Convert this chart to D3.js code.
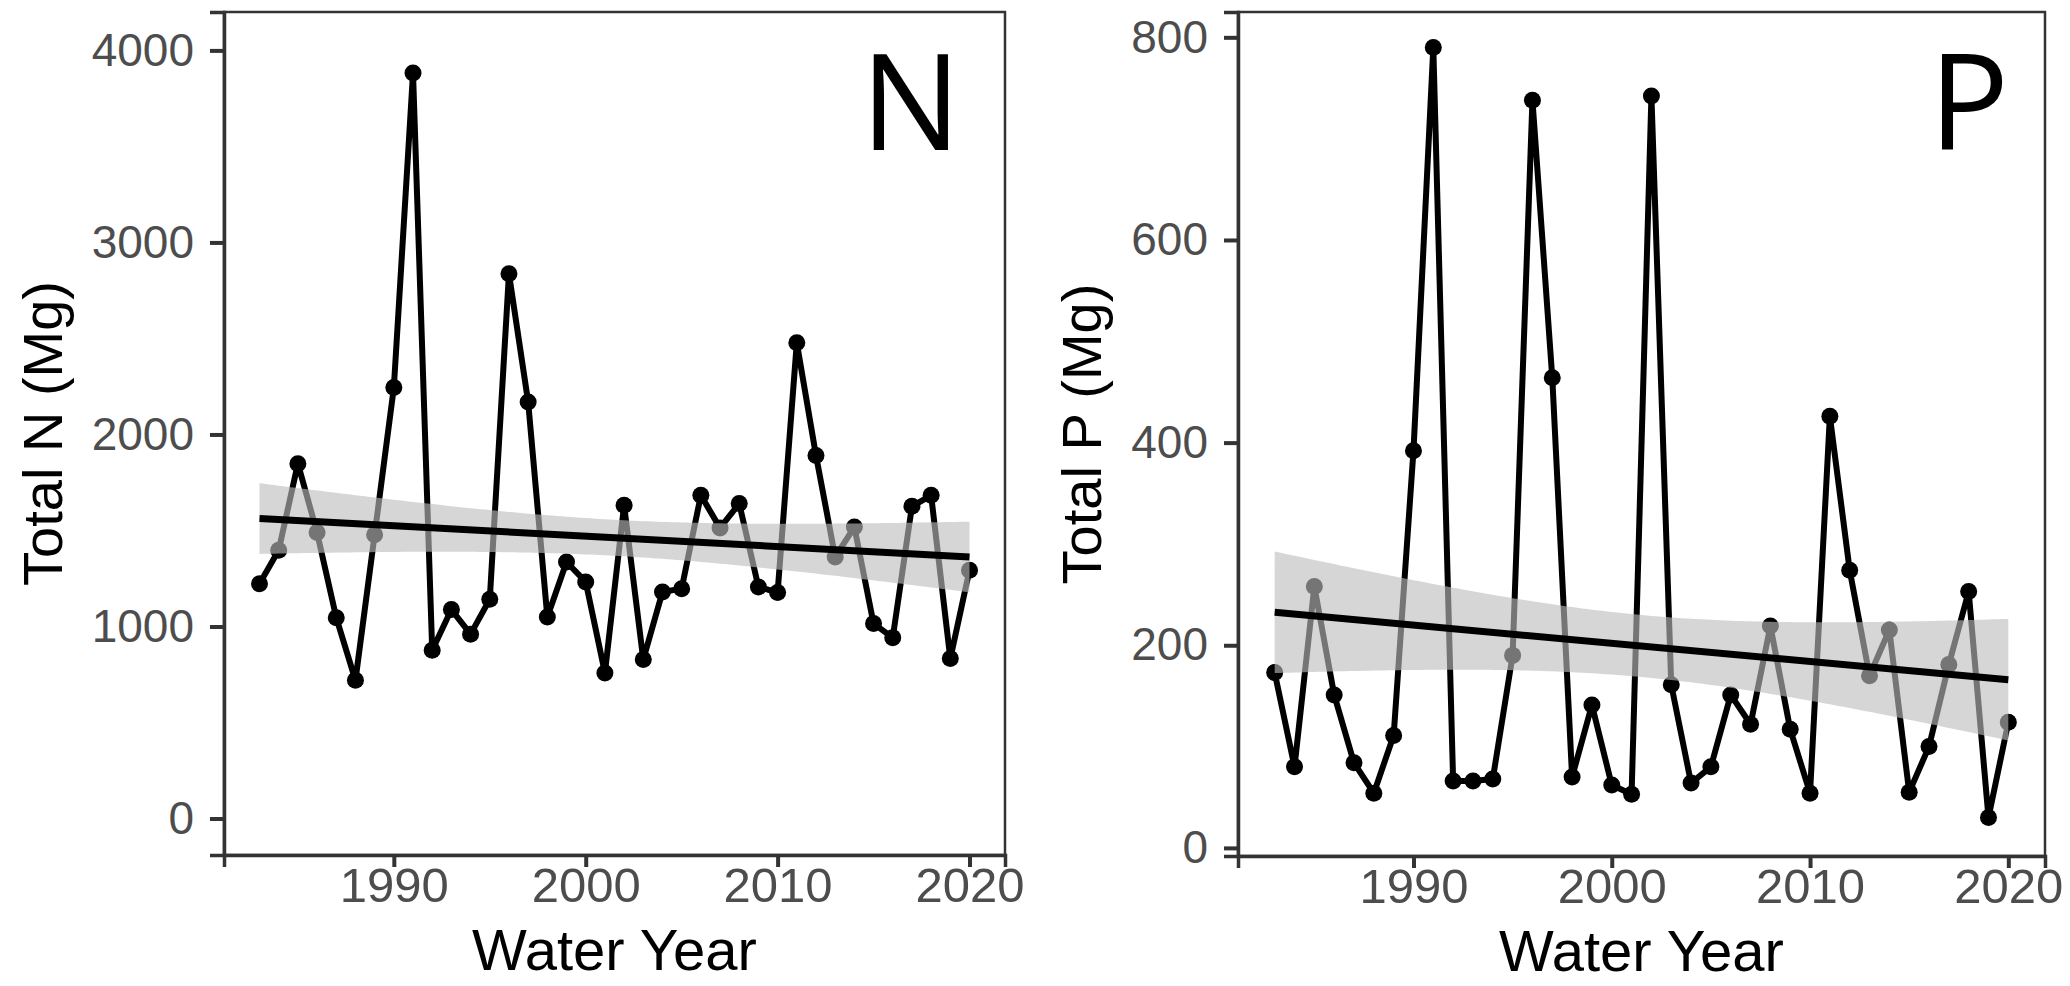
<!DOCTYPE html>
<html>
<head>
<meta charset="utf-8">
<script src="https://cdn.jsdelivr.net/npm/d3@7"></script>
<style>
  body { margin: 0; background: #fff; }
  text { font-family: "Liberation Sans", Arial, Helvetica, sans-serif; }
</style>
</head>
<body>
<div id="container"></div>
<script>
/**
 * DATA
 * */
const years = d3.range(1983, 2021);

// Total N load (Mg) per water year
const totalN = [1223, 1397, 1848, 1489, 1046, 720, 1478, 2244, 3882, 876,
  1088, 960, 1142, 2837, 2169, 1050, 1336, 1232, 758, 1631,
  828, 1180, 1197, 1683, 1513, 1640, 1206, 1177, 2478, 1891,
  1362, 1518, 1015, 942, 1626, 1683, 833, 1293];

// Total P load (Mg) per water year
const totalP = [173, 80, 258, 151, 84, 54, 111, 392, 790, 66,
  66, 68, 190, 738, 464, 70, 141, 62, 53, 742,
  161, 64, 80, 151, 122, 219, 117, 54, 426, 274,
  170, 215, 55, 100, 181, 253, 30, 124];

// linear trend: fitted value at first and last year, and CI half-width at the ends
const trendN = [1562, 1362];
const bandN = 184;
const trendP = [232.5, 166];
const bandP = 60;

const yTicksN = [0, 1000, 2000, 3000, 4000];
const yTicksP = [0, 200, 400, 600, 800];
const xTicks = [1990, 2000, 2010, 2020];

/**
 * LAYOUT
 * */
const width = 2070, height = 986;

const panels = [
  { values: totalN, trend: trendN, band: bandN, ticks: yTicksN, yDomain: [-190, 4200],
    title: "Total N (Mg)", letter: "N", left: 224, right: 1005, top: 12, bottom: 855, letterRight: 961 },
  { values: totalP, trend: trendP, band: bandP, ticks: yTicksP, yDomain: [-8, 825],
    title: "Total P (Mg)", letter: "P", left: 1238, right: 2045, top: 12, bottom: 856, letterRight: 2009 }
];

const svg = d3.select("#container")
  .append("svg")
  .attr("width", width)
  .attr("height", height)
  .style("display", "block");

svg.append("rect").attr("width", width).attr("height", height).attr("fill", "#fff");

panels.forEach(p => drawPanel(p));

function drawPanel(p) {
  const x = d3.scaleLinear().domain([1981.15, 2021.85]).range([p.left, p.right]);
  const y = d3.scaleLinear().domain(p.yDomain).range([p.bottom, p.top]);

  const g = svg.append("g");
  const pts = years.map((yr, i) => ({ yr, v: p.values[i] }));

  // data line + points
  g.append("path")
    .datum(pts)
    .attr("fill", "none")
    .attr("stroke", "#000")
    .attr("stroke-width", 6)
    .attr("stroke-linejoin", "round")
    .attr("d", d3.line().x(d => x(d.yr)).y(d => y(d.v)));

  g.selectAll("circle")
    .data(pts)
    .join("circle")
    .attr("cx", d => x(d.yr))
    .attr("cy", d => y(d.v))
    .attr("r", 8.5)
    .attr("fill", "#000");

  // confidence ribbon of the linear trend (hyperbolic shape of an lm CI)
  const x0 = years[0], x1 = years[years.length - 1];
  const n = years.length;
  const xbar = d3.mean(years);
  const sxx = d3.sum(years, v => (v - xbar) ** 2);
  const se = t => Math.sqrt(1 / n + (t - xbar) ** 2 / sxx);
  const seEnd = se(x0);
  const fit = t => p.trend[0] + (p.trend[1] - p.trend[0]) * (t - x0) / (x1 - x0);
  const grid = d3.range(x0, x1 + 0.001, 0.25);

  g.append("path")
    .datum(grid)
    .attr("fill", "#bdbdbd")
    .attr("fill-opacity", 0.62)
    .attr("d", d3.area()
      .x(t => x(t))
      .y0(t => y(fit(t) - p.band * se(t) / seEnd))
      .y1(t => y(fit(t) + p.band * se(t) / seEnd)));

  g.append("line")
    .attr("x1", x(x0)).attr("y1", y(p.trend[0]))
    .attr("x2", x(x1)).attr("y2", y(p.trend[1]))
    .attr("stroke", "#000")
    .attr("stroke-width", 7);

  // panel border
  g.append("rect")
    .attr("x", p.left).attr("y", p.top)
    .attr("width", p.right - p.left).attr("height", p.bottom - p.top)
    .attr("fill", "none")
    .attr("stroke", "#333")
    .attr("stroke-width", 2.5);

  // axes
  const yAxis = g.append("g")
    .attr("transform", `translate(${p.left},0)`)
    .call(d3.axisLeft(y).tickValues(p.ticks).tickFormat(d3.format("d")).tickSize(14).tickPadding(16));
  const xAxis = g.append("g")
    .attr("transform", `translate(0,${p.bottom})`)
    .call(d3.axisBottom(x).tickValues(xTicks).tickFormat(d3.format("d")).tickSize(12));

  [yAxis, xAxis].forEach(a => {
    a.select(".domain").attr("stroke", "#333").attr("stroke-width", 3.5);
    a.selectAll(".tick line").attr("stroke", "#333").attr("stroke-width", 4);
    a.selectAll(".tick text")
      .attr("fill", "#4d4d4d")
      .style("font-size", "46px");
  });
  xAxis.selectAll(".tick text").attr("y", 47).attr("dy", null).style("font-size", "49px");

  // axis titles
  const labelW = d3.max(yAxis.selectAll(".tick text").nodes(), nd => nd.getComputedTextLength());
  g.append("text")
    .attr("transform", `translate(${p.left - 30 - labelW - 30},${(p.top + p.bottom) / 2}) rotate(-90)`)
    .attr("text-anchor", "middle")
    .style("font-size", "56px")
    .attr("fill", "#000")
    .text(p.title);

  g.append("text")
    .attr("x", (p.left + p.right) / 2)
    .attr("y", p.bottom + 115)
    .attr("text-anchor", "middle")
    .style("font-size", "58px")
    .attr("fill", "#000")
    .text("Water Year");

  // panel letter
  g.append("text")
    .attr("x", p.letterRight)
    .attr("y", 150)
    .attr("text-anchor", "end")
    .style("font-family", "'Open Sans', 'Noto Sans', sans-serif")
    .style("font-size", "133px")
    .attr("fill", "#000")
    .text(p.letter);
}
</script>
</body>
</html>
